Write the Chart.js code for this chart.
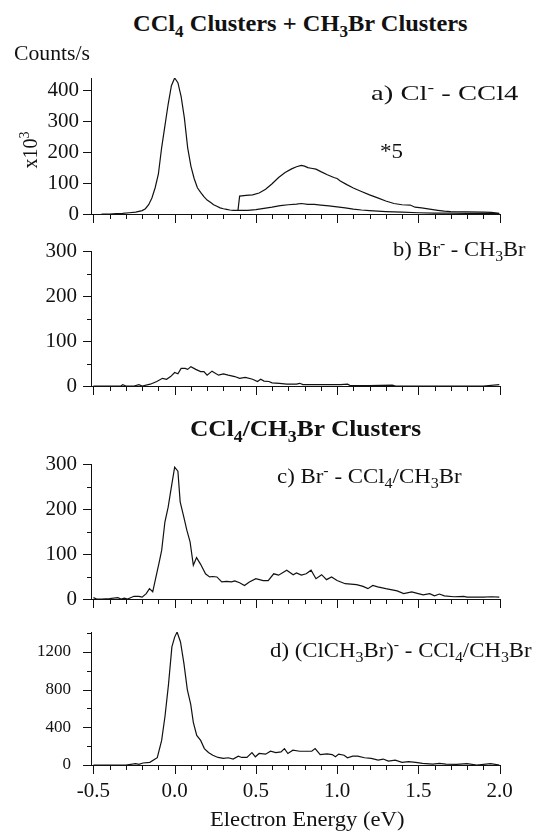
<!DOCTYPE html>
<html>
<head>
<meta charset="utf-8">
<script src="https://cdn.jsdelivr.net/npm/chart.js@4.4.0/dist/chart.umd.min.js"></script>
<style>
  body { margin: 0; width: 534px; height: 834px; position: relative; overflow: hidden; background: #fff;
         font-family: "Liberation Serif", "Times New Roman", serif; color: #111; }
  canvas { position: absolute; left: 0; }
  .txt { position: absolute; white-space: nowrap; line-height: 1; transform-origin: left top; }
  .bold { font-weight: bold; }
  sub, sup { line-height: 0; font-size: 0.7em; }
  #ylab { position: absolute; left: 30px; top: 150px; font-size: 20px; line-height: 1; white-space: nowrap;
          transform: translate(-50%, -50%) rotate(-90deg); }
</style>
</head>
<body>
<canvas id="panelA"></canvas>
<canvas id="panelB"></canvas>
<canvas id="panelC"></canvas>
<canvas id="panelD"></canvas>

<div class="txt bold" data-w="335" style="left:133px; top:11px; font-size:24px">CCl<sub>4</sub> Clusters + CH<sub>3</sub>Br Clusters</div>
<div class="txt" data-w="76" style="left:14px; top:43px; font-size:20px">Counts/s</div>
<div id="ylab">x10<sup>3</sup></div>
<div class="txt" data-w="147" style="left:371px; top:82px; font-size:22px">a) Cl<sup>-</sup> - CCl4</div>
<div class="txt" data-w="23" style="left:380px; top:141px; font-size:21px">*5</div>
<div class="txt" data-w="133" style="left:393px; top:238px; font-size:22px">b) Br<sup>-</sup> - CH<sub>3</sub>Br</div>
<div class="txt bold" data-w="231" style="left:190px; top:417px; font-size:23px">CCl<sub>4</sub>/CH<sub>3</sub>Br Clusters</div>
<div class="txt" data-w="185" style="left:277px; top:465px; font-size:22px">c) Br<sup>-</sup> - CCl<sub>4</sub>/CH<sub>3</sub>Br</div>
<div class="txt" data-w="262" style="left:270px; top:639px; font-size:22px">d) (ClCH<sub>3</sub>Br)<sup>-</sup> - CCl<sub>4</sub>/CH<sub>3</sub>Br</div>
<div class="txt" data-w="194" style="left:210px; top:809px; font-size:21px">Electron Energy (eV)</div>

<script>
// x axis shared by all four panels
const xTickLabels = ['-0.5', '0.0', '0.5', '1.0', '1.5', '2.0'];
const X_MIN = -0.515, X_MAX = 2.0;

// a) Cl- from CCl4 clusters, plus the tail scaled by 5
const energyA = [-0.45, -0.40, -0.36, -0.32, -0.28, -0.24, -0.20, -0.18, -0.16, -0.14, -0.12, -0.10, -0.08, -0.06, -0.04, -0.02,
  0.00, 0.02, 0.04, 0.06, 0.08, 0.10, 0.12, 0.14, 0.16, 0.18, 0.20, 0.22, 0.24, 0.26, 0.28, 0.30, 0.32, 0.34, 0.36, 0.38, 0.40,
  0.45, 0.50, 0.55, 0.60, 0.65, 0.70, 0.75, 0.78, 0.82, 0.86, 0.90, 0.95, 1.00, 1.05, 1.10, 1.15, 1.20, 1.30, 1.40, 1.50, 1.60,
  1.70, 1.80, 1.90, 2.00];
const countsA = [0, 0, 1, 2, 4, 6, 11, 17, 30, 52, 85, 130, 215, 285, 355, 415,
  440, 425, 380, 310, 215, 155, 115, 85, 70, 56, 45, 38, 30, 25, 20, 17, 15, 13, 12, 12, 12,
  12, 14, 18, 22, 27, 30, 32, 34, 31, 31, 29, 26, 23, 20, 16, 13, 11, 8, 6, 4, 3,
  3, 2, 2, 1];
const energyA5 = [0.39, 0.40, 0.44, 0.48, 0.52, 0.56, 0.60, 0.64, 0.68, 0.72, 0.75, 0.78, 0.80, 0.82, 0.84, 0.87, 0.90, 0.94,
  0.98, 1.00, 1.02, 1.06, 1.10, 1.15, 1.20, 1.25, 1.30, 1.35, 1.40, 1.45, 1.48, 1.52, 1.57, 1.62, 1.66, 1.70, 1.80, 1.90, 1.95, 2.00];
const countsA5 = [12, 58, 60, 62, 68, 80, 98, 118, 134, 146, 153, 157, 155, 150, 148, 145, 137, 127,
  118, 115, 107, 95, 84, 73, 62, 52, 42, 34, 30, 29, 22, 20, 16, 12, 9, 8, 7, 6, 5, 2];

// b) Br- from CH3Br clusters
const energyB = [-0.50, -0.33, -0.32, -0.30, -0.25, -0.22, -0.20, -0.15, -0.11, -0.075, -0.05, -0.025, 0.00, 0.02, 0.04, 0.065,
  0.08, 0.10, 0.13, 0.16, 0.18, 0.20, 0.23, 0.27, 0.30, 0.33, 0.37, 0.40, 0.435, 0.48, 0.51, 0.53, 0.55, 0.58, 0.60, 0.645,
  0.69, 0.75, 0.77, 0.79, 0.85, 0.95, 1.02, 1.065, 1.08, 1.20, 1.34, 1.36, 1.50, 1.70, 1.90, 2.00];
const countsB = [0, 0, 3, 0, 0, 3, 0, 4, 10, 17, 15, 21, 30, 27, 39, 39,
  37, 43, 37, 32, 32, 24, 33, 24, 27, 24, 21, 17, 19, 15, 10, 15, 11, 10, 7, 6,
  4, 4, 6, 3, 3, 3, 3, 4, 1, 1, 2, 0, 0, 0, 0, 3];

// c) Br- from mixed CCl4/CH3Br clusters
const energyC = [-0.50, -0.48, -0.45, -0.40, -0.35, -0.33, -0.31, -0.29, -0.25, -0.22, -0.20, -0.175, -0.155, -0.135, -0.115,
  -0.095, -0.08, -0.06, -0.04, -0.02, 0.00, 0.02, 0.034, 0.054, 0.075, 0.095, 0.115, 0.135, 0.16, 0.19, 0.215, 0.235, 0.26,
  0.29, 0.32, 0.35, 0.37, 0.40, 0.43, 0.46, 0.50, 0.545, 0.576, 0.61, 0.64, 0.69, 0.73, 0.75, 0.78, 0.81, 0.84, 0.87, 0.905,
  0.935, 0.966, 1.00, 1.05, 1.12, 1.16, 1.19, 1.22, 1.25, 1.30, 1.37, 1.41, 1.46, 1.50, 1.53, 1.57, 1.60, 1.63, 1.66, 1.72,
  1.78, 1.80, 1.85, 1.90, 1.95, 2.00];
const countsC = [3, 0, 0, 1, 3, 0, 2, 0, 6, 6, 4, 12, 23, 16, 49,
  82, 108, 171, 204, 249, 293, 284, 216, 186, 153, 127, 75, 92, 77, 56, 49, 50, 49,
  38, 39, 38, 40, 36, 30, 38, 45, 41, 41, 56, 53, 64, 54, 58, 53, 56, 64, 45, 54,
  43, 49, 41, 34, 32, 28, 23, 30, 27, 23, 18, 12, 16, 12, 9, 12, 7, 11, 7, 5,
  6, 4, 4, 4, 5, 4];

// d) (ClCH3Br)- from mixed clusters
const energyD = [-0.50, -0.30, -0.24, -0.22, -0.195, -0.153, -0.12, -0.107, -0.08, -0.059, -0.038, -0.017, 0.00, 0.015, 0.036,
  0.057, 0.078, 0.099, 0.115, 0.136, 0.16, 0.183, 0.208, 0.235, 0.267, 0.30, 0.33, 0.36, 0.392, 0.413, 0.445, 0.476, 0.497,
  0.52, 0.56, 0.59, 0.623, 0.655, 0.676, 0.697, 0.728, 0.77, 0.812, 0.844, 0.865, 0.896, 0.938, 0.97, 0.99, 1.01, 1.043,
  1.064, 1.096, 1.127, 1.169, 1.21, 1.253, 1.284, 1.316, 1.358, 1.40, 1.44, 1.484, 1.526, 1.589, 1.63, 1.67, 1.736, 1.80,
  1.86, 1.945, 2.00];
const countsD = [0, 0, 14, 7, 21, 28, 63, 77, 261, 522, 852, 1252, 1356, 1409, 1304,
  1078, 800, 643, 452, 313, 261, 174, 132, 104, 80, 70, 77, 63, 94, 80, 80, 132, 87,
  122, 115, 146, 132, 139, 174, 122, 157, 146, 146, 146, 174, 111, 118, 111, 87, 115, 104,
  77, 94, 94, 77, 70, 52, 63, 42, 52, 28, 35, 28, 17, 10, 17, 10, 7, 14,
  0, 14, 0];

// y ticks per panel
const yTicksA = [0, 100, 200, 300, 400];
const yTicksB = [0, 100, 200, 300];
const yTicksC = [0, 100, 200, 300];
const yTicksD = [0, 400, 800, 1200];
const yMinorB = [50, 150, 250];
const yMinorC = [50, 150, 250];
const yMinorD = [200, 600, 1000, 1400];

const FONT = '"Liberation Serif", "Times New Roman", serif';
const INK = '#111';
const PAD = 34;   // room above/below each plot so label overflow never moves the axes

// outward tick marks: 0.1 eV minor / 0.5 eV major on x, labelled + minor on y
const tickMarks = {
  id: 'tickMarks',
  afterDraw(chart, args, opts) {
    const { ctx, chartArea, scales: { x, y } } = chart;
    ctx.save();
    ctx.strokeStyle = INK;
    ctx.lineWidth = 1;
    ctx.beginPath();
    for (let i = -5; i <= 20; i++) {
      const px = Math.round(x.getPixelForValue(i / 10)) + 0.5;
      ctx.moveTo(px, chartArea.bottom);
      ctx.lineTo(px, chartArea.bottom + (i % 5 === 0 ? 9 : 5));
    }
    const yTick = (v, len) => {
      const py = Math.round(y.getPixelForValue(v)) + 0.5;
      ctx.moveTo(chartArea.left, py);
      ctx.lineTo(chartArea.left - len, py);
    };
    opts.major.forEach(v => yTick(v, 8));
    opts.minor.forEach(v => yTick(v, 4));
    ctx.stroke();
    ctx.restore();
  }
};

function drawPanel(id, top, height, yMax, yTicks, yMinor, series, yFont, yPad, showX) {
  const cv = document.getElementById(id);
  const boxH = showX ? 40 : PAD;
  cv.width = 534;
  cv.height = PAD + height + boxH;
  cv.style.top = (top - PAD) + 'px';

  return new Chart(cv, {
    type: 'line',
    data: {
      datasets: series.map(s => ({
        data: s[0].map((e, i) => ({ x: e, y: s[1][i] })),
        borderColor: INK,
        borderWidth: 1.2,
        pointRadius: 0,
        tension: 0,
        fill: false
      }))
    },
    options: {
      responsive: false,
      animation: false,
      devicePixelRatio: 1,
      layout: { padding: { top: PAD, right: 34.5, left: 0, bottom: 0 } },
      plugins: {
        legend: { display: false },
        tooltip: { enabled: false },
        tickMarks: { major: yTicks, minor: yMinor }
      },
      scales: {
        x: {
          type: 'linear',
          min: X_MIN,
          max: X_MAX,
          grid: { display: false, drawTicks: false },
          border: { display: true, color: INK, width: 1 },
          afterBuildTicks: s => { s.ticks = xTickLabels.map(t => ({ value: parseFloat(t) })); },
          ticks: {
            display: showX,
            padding: 14,
            color: INK,
            font: { family: FONT, size: 21 },
            callback: (v, i) => xTickLabels[i]
          },
          afterFit: s => { s.height = boxH; }
        },
        y: {
          min: 0,
          max: yMax,
          grid: { display: false, drawTicks: false },
          border: { display: true, color: INK, width: 1 },
          afterBuildTicks: s => { s.ticks = yTicks.map(v => ({ value: v })); },
          ticks: {
            padding: yPad,
            color: INK,
            font: { family: FONT, size: yFont },
            callback: v => String(v)
          },
          afterFit: s => { s.width = 91; }
        }
      }
    },
    plugins: [tickMarks]
  });
}

drawPanel('panelA', 78, 136, 440, yTicksA, [], [[energyA, countsA], [energyA5, countsA5]], 21, 12, false);
drawPanel('panelB', 251, 135, 300, yTicksB, yMinorB, [[energyB, countsB]], 21, 14, false);
drawPanel('panelC', 464, 135, 300, yTicksC, yMinorC, [[energyC, countsC]], 21, 14, false);
drawPanel('panelD', 632, 133, 1410, yTicksD, yMinorD, [[energyD, countsD]], 17, 20, true);

// the printed lettering runs wide, so stretch each label to its span
document.querySelectorAll('.txt[data-w]').forEach(el => {
  const k = el.dataset.w / el.offsetWidth;
  el.style.transform = 'scaleX(' + k.toFixed(3) + ')';
});
</script>
</body>
</html>
